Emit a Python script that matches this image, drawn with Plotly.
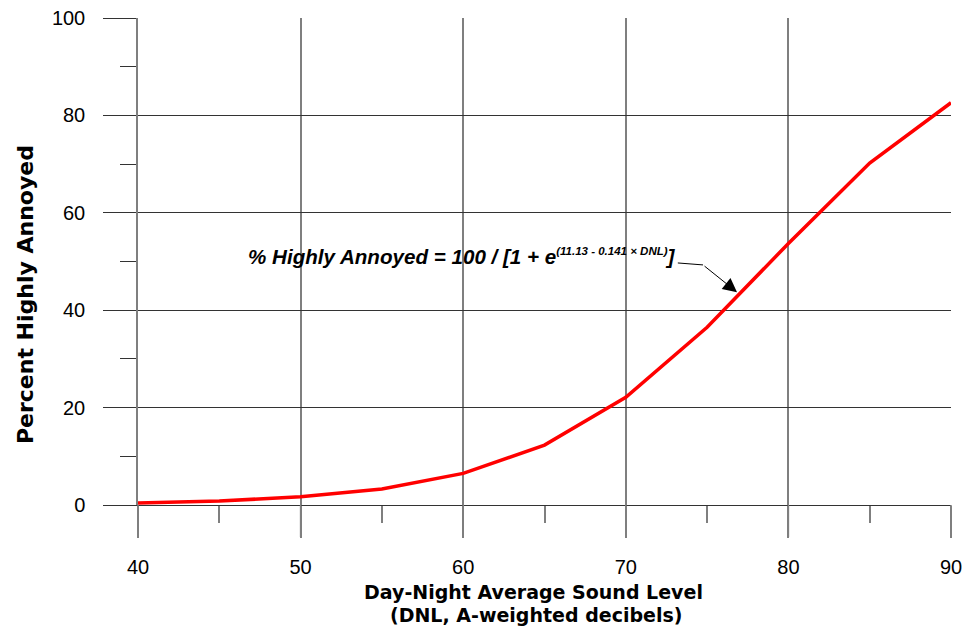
import plotly.graph_objects as go

dnl = [40, 45, 50, 55, 60, 65, 70, 75, 80, 85, 90]
pct_annoyed = [0.4, 0.8, 1.7, 3.3, 6.5, 12.3, 22.1, 36.5, 53.7, 70.2, 82.6]
x_ticks = [40, 50, 60, 70, 80, 90]
y_ticks = [0, 20, 40, 60, 80, 100]
X_RANGE = [40, 90]
Y_RANGE = [0, 100]

FONT = "Liberation Sans, Arial, sans-serif"
TFONT = "DejaVu Sans, sans-serif"
GRAYV = "#7f7f7f"
DARKH = "#333333"
PLOT_H = 629 - 18 - 124

fig = go.Figure()
fig.add_trace(go.Scatter(x=dnl, y=pct_annoyed, mode="lines",
                         line=dict(color="#ff0000", width=3.5), showlegend=False,
                         hoverinfo="skip"))

fig.update_xaxes(range=X_RANGE, tickvals=x_ticks, showgrid=True, gridcolor=GRAYV,
                 gridwidth=1.5, ticks="outside", ticklen=32, tickcolor=GRAYV, tickwidth=1.5,
                 minor=dict(dtick=5, tick0=40, ticks="outside", ticklen=17, tickcolor=GRAYV,
                            tickwidth=1.5, showgrid=False),
                 zeroline=False, showline=True, linecolor=DARKH, linewidth=1,
                 ticklabelstandoff=12, automargin=False,
                 tickfont=dict(family=FONT, size=20, color="#000"))
fig.update_yaxes(range=Y_RANGE, tickvals=y_ticks, showgrid=True, gridcolor=DARKH,
                 gridwidth=1, ticks="outside", ticklen=33, tickcolor=DARKH, tickwidth=1,
                 minor=dict(dtick=10, tick0=0, ticks="outside", ticklen=16, tickcolor=DARKH,
                            tickwidth=1, showgrid=False),
                 zeroline=False, showline=True, linecolor=GRAYV, linewidth=1.5,
                 ticklabelstandoff=14, automargin=False,
                 tickfont=dict(family=FONT, size=20, color="#000"))

# long major tick marks below the x axis (extension of the vertical grid lines)
for v in x_ticks:
    px = (v - X_RANGE[0]) / (X_RANGE[1] - X_RANGE[0])
    fig.add_shape(type="line", xref="paper", yref="paper", x0=px, x1=px, y0=0, y1=-32 / PLOT_H,
                  line=dict(color=GRAYV, width=1.5))

# axis titles
fig.add_annotation(x=0.486, y=-0.179, xref="paper", yref="paper", xanchor="center", yanchor="middle",
                   text="<b>Day-Night Average Sound Level</b>", showarrow=False,
                   font=dict(family=TFONT, size=19, color="#000"))
fig.add_annotation(x=0.489, y=-0.226, xref="paper", yref="paper", xanchor="center", yanchor="middle",
                   text="<b>(DNL, A-weighted decibels)</b>", showarrow=False,
                   font=dict(family=TFONT, size=19, color="#000"))
fig.add_annotation(x=-0.139, y=0.433, xref="paper", yref="paper", xanchor="center", yanchor="middle",
                   text="<b>Percent Highly Annoyed</b>", showarrow=False, textangle=-90,
                   font=dict(family=TFONT, size=22, color="#000"))

# equation label with leader arrow
fig.add_annotation(x=73.2, y=51.0, xref="x", yref="y", xanchor="right", yanchor="middle",
                   text="<b><i>% Highly Annoyed = 100 / [1 + e<sup><span style=\"font-size:11.5px\">(11.13 - 0.141 × DNL)</span></sup>]</i></b>",
                   showarrow=False, font=dict(family=FONT, size=20.6, color="#000"))
fig.add_shape(type="line", x0=73.2, y0=49.7, x1=74.75, y1=49.3, xref="x", yref="y",
              line=dict(color="#000", width=1))
fig.add_annotation(x=76.84, y=43.7, ax=74.75, ay=49.3, axref="x", ayref="y", xref="x", yref="y",
                   text="", showarrow=True, arrowhead=2, arrowsize=2.8, arrowwidth=1,
                   arrowcolor="#000")

fig.update_layout(width=965, height=629, margin=dict(l=138, r=14, t=18, b=124),
                  plot_bgcolor="#fff", paper_bgcolor="#fff",
                  font=dict(family=FONT, color="#000"))

fig.write_html("out.html", config={"displayModeBar": False},
               post_script="document.body.style.margin='0';document.body.style.overflow='hidden';")
